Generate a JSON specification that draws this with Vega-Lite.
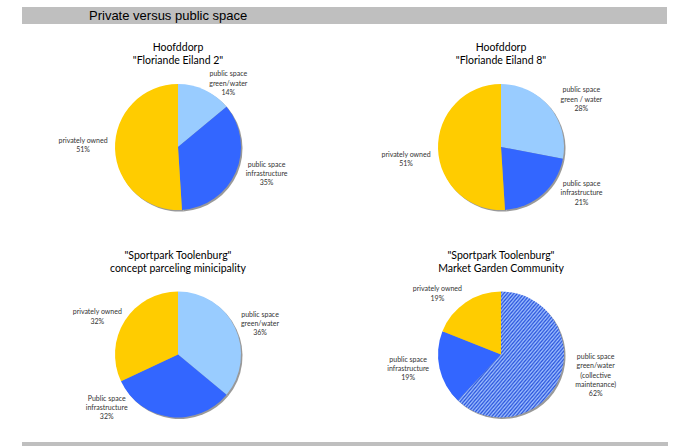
{
  "$schema": "https://vega.github.io/schema/vega-lite/v6.json",
  "background": "white",
  "padding": {"left": 22, "top": 7, "right": 9, "bottom": 1},
  "spacing": 1,
  "config": {"view": {"stroke": null}, "font": "Lato"},
  "datasets": {
    "p1": [
      {"cat": "green", "label": "public space|green/water", "v": 14, "o": 1},
      {"cat": "infra", "label": "public space|infrastructure", "v": 35, "o": 2},
      {"cat": "private", "label": "privately owned", "v": 51, "o": 3}
    ],
    "p2": [
      {"cat": "green", "label": "public space|green / water", "v": 28, "o": 1},
      {"cat": "infra", "label": "public space|infrastructure", "v": 21, "o": 2},
      {"cat": "private", "label": "privately owned", "v": 51, "o": 3}
    ],
    "p3": [
      {"cat": "green", "label": "public space|green/water", "v": 36, "o": 1},
      {"cat": "infra", "label": "Public space|infrastructure", "v": 32, "o": 2},
      {"cat": "private", "label": "privately owned", "v": 32, "o": 3}
    ],
    "p4": [
      {"cat": "collective", "label": "public space|green/water|(collective|maintenance)", "v": 62, "o": 1},
      {"cat": "infra", "label": "public space|infrastructure", "v": 19, "o": 2},
      {"cat": "private", "label": "privately owned", "v": 19, "o": 3}
    ],
    "blank": [{"t": ""}]
  },
  "vconcat": [
    {
      "width": 645,
      "height": 17,
      "view": {"fill": "#BFBFBF", "stroke": null},
      "title": {"text": "Private versus public space", "anchor": "start", "frame": "group", "orient": "top", "baseline": "top", "offset": -13, "dx": 67, "dy": 2.7, "fontSize": 13, "font": "Liberation Sans", "fontWeight": "normal", "color": "#000000"},
      "data": {"name": "blank"},
      "mark": {"type": "text"},
      "encoding": {"text": {"field": "t", "type": "nominal"}}
    },
    {
      "spacing": 11,
      "hconcat": [
        {
          "width": 312,
          "height": 219,
          "data": {"name": "p1"},
          "transform": [{"calculate": "datum.label + '|' + datum.v + '%'", "as": "txt"}],
          "title": {"text": ["Hoofddorp", "\"Floriande Eiland 2\""], "anchor": "middle", "frame": "group", "orient": "top", "baseline": "top", "offset": -41.7, "lineHeight": 13, "fontSize": 10.5, "font": "Lato", "fontWeight": "normal", "color": "#000000"},
          "encoding": {
            "theta": {"field": "v", "type": "quantitative", "stack": true},
            "order": {"field": "o", "type": "quantitative"}
          },
          "layer": [
            {"mark": {"type": "arc", "outerRadius": 63, "xOffset": 1.5, "yOffset": 14, "fill": "#7F7F7F", "opacity": 0.8}, "encoding": {"detail": {"field": "cat", "type": "nominal"}}},
            {"mark": {"type": "arc", "outerRadius": 63, "yOffset": 12.5}, "encoding": {"fill": {"field": "cat", "type": "nominal", "legend": null, "scale": {"domain": ["private", "infra", "green", "collective"], "range": ["#FFCC00", "#3366FF", "#99CCFF", "#5F87F0"]}}}},
            {"mark": {"type": "text", "radius": 90, "dx": 12, "dy": 21.3, "fontSize": 7, "font": "Lato", "lineBreak": "|", "lineHeight": 9.2, "color": "#333333", "baseline": "middle"}, "encoding": {"text": {"condition": {"test": "datum.cat !== 'green'", "value": ""}, "field": "txt", "type": "nominal"}, "detail": {"field": "cat", "type": "nominal"}}},
            {"mark": {"type": "text", "radius": 90, "dx": 6, "dy": -5.7, "fontSize": 7, "font": "Lato", "lineBreak": "|", "lineHeight": 9.2, "color": "#333333", "baseline": "middle"}, "encoding": {"text": {"condition": {"test": "datum.cat !== 'infra'", "value": ""}, "field": "txt", "type": "nominal"}, "detail": {"field": "cat", "type": "nominal"}}},
            {"mark": {"type": "text", "radius": 90, "dx": -5, "dy": 3.9, "fontSize": 7, "font": "Lato", "lineBreak": "|", "lineHeight": 9.2, "color": "#333333", "baseline": "middle"}, "encoding": {"text": {"condition": {"test": "datum.cat !== 'private'", "value": ""}, "field": "txt", "type": "nominal"}, "detail": {"field": "cat", "type": "nominal"}}}
          ]
        },
        {
          "width": 312,
          "height": 219,
          "data": {"name": "p2"},
          "transform": [{"calculate": "datum.label + '|' + datum.v + '%'", "as": "txt"}],
          "title": {"text": ["Hoofddorp", "\"Floriande Eiland 8\""], "anchor": "middle", "frame": "group", "orient": "top", "baseline": "top", "offset": -41.7, "lineHeight": 13, "fontSize": 10.5, "font": "Lato", "fontWeight": "normal", "color": "#000000"},
          "encoding": {
            "theta": {"field": "v", "type": "quantitative", "stack": true},
            "order": {"field": "o", "type": "quantitative"}
          },
          "layer": [
            {"mark": {"type": "arc", "outerRadius": 63, "xOffset": 1.5, "yOffset": 14, "fill": "#7F7F7F", "opacity": 0.8}, "encoding": {"detail": {"field": "cat", "type": "nominal"}}},
            {"mark": {"type": "arc", "outerRadius": 63, "yOffset": 12.5}, "encoding": {"fill": {"field": "cat", "type": "nominal", "legend": null, "scale": {"domain": ["private", "infra", "green", "collective"], "range": ["#FFCC00", "#3366FF", "#99CCFF", "#5F87F0"]}}}},
            {"mark": {"type": "text", "radius": 90, "dx": 11, "dy": 13.3, "fontSize": 7, "font": "Lato", "lineBreak": "|", "lineHeight": 9.2, "color": "#333333", "baseline": "middle"}, "encoding": {"text": {"condition": {"test": "datum.cat !== 'green'", "value": ""}, "field": "txt", "type": "nominal"}, "detail": {"field": "cat", "type": "nominal"}}},
            {"mark": {"type": "text", "radius": 90, "dx": 21, "dy": -17.7, "fontSize": 7, "font": "Lato", "lineBreak": "|", "lineHeight": 9.2, "color": "#333333", "baseline": "middle"}, "encoding": {"text": {"condition": {"test": "datum.cat !== 'infra'", "value": ""}, "field": "txt", "type": "nominal"}, "detail": {"field": "cat", "type": "nominal"}}},
            {"mark": {"type": "text", "radius": 90, "dx": -5, "dy": 17.9, "fontSize": 7, "font": "Lato", "lineBreak": "|", "lineHeight": 9.2, "color": "#333333", "baseline": "middle"}, "encoding": {"text": {"condition": {"test": "datum.cat !== 'private'", "value": ""}, "field": "txt", "type": "nominal"}, "detail": {"field": "cat", "type": "nominal"}}}
          ]
        }
      ]
    },
    {
      "spacing": 11,
      "hconcat": [
        {
          "width": 312,
          "height": 192,
          "data": {"name": "p3"},
          "transform": [{"calculate": "datum.label + '|' + datum.v + '%'", "as": "txt"}],
          "title": {"text": ["\"Sportpark Toolenburg\"", "concept parceling minicipality"], "anchor": "middle", "frame": "group", "orient": "top", "baseline": "top", "offset": -28.7, "lineHeight": 13, "fontSize": 10.5, "font": "Lato", "fontWeight": "normal", "color": "#000000"},
          "encoding": {
            "theta": {"field": "v", "type": "quantitative", "stack": true},
            "order": {"field": "o", "type": "quantitative"}
          },
          "layer": [
            {"mark": {"type": "arc", "outerRadius": 63, "xOffset": 1.5, "yOffset": 14, "fill": "#7F7F7F", "opacity": 0.8}, "encoding": {"detail": {"field": "cat", "type": "nominal"}}},
            {"mark": {"type": "arc", "outerRadius": 63, "yOffset": 12.5}, "encoding": {"fill": {"field": "cat", "type": "nominal", "legend": null, "scale": {"domain": ["private", "infra", "green", "collective"], "range": ["#FFCC00", "#3366FF", "#99CCFF", "#5F87F0"]}}}},
            {"mark": {"type": "text", "radius": 70, "dx": 18.7, "dy": 2.7, "fontSize": 7, "font": "Lato", "lineBreak": "|", "lineHeight": 9.2, "color": "#333333", "baseline": "middle"}, "encoding": {"text": {"condition": {"test": "datum.cat !== 'green'", "value": ""}, "field": "txt", "type": "nominal"}, "detail": {"field": "cat", "type": "nominal"}}},
            {"mark": {"type": "text", "radius": 90, "dx": -60, "dy": -32.7, "fontSize": 7, "font": "Lato", "lineBreak": "|", "lineHeight": 9.2, "color": "#333333", "baseline": "middle"}, "encoding": {"text": {"condition": {"test": "datum.cat !== 'infra'", "value": ""}, "field": "txt", "type": "nominal"}, "detail": {"field": "cat", "type": "nominal"}}},
            {"mark": {"type": "text", "radius": 70, "dx": -21.6, "dy": 8, "fontSize": 7, "font": "Lato", "lineBreak": "|", "lineHeight": 9.2, "color": "#333333", "baseline": "middle"}, "encoding": {"text": {"condition": {"test": "datum.cat !== 'private'", "value": ""}, "field": "txt", "type": "nominal"}, "detail": {"field": "cat", "type": "nominal"}}}
          ]
        },
        {
          "width": 312,
          "height": 192,
          "data": {"name": "p4"},
          "transform": [{"calculate": "datum.label + '|' + datum.v + '%'", "as": "txt"}],
          "title": {"text": ["\"Sportpark Toolenburg\"", "Market Garden Community"], "anchor": "middle", "frame": "group", "orient": "top", "baseline": "top", "offset": -28.7, "lineHeight": 13, "fontSize": 10.5, "font": "Lato", "fontWeight": "normal", "color": "#000000"},
          "encoding": {
            "theta": {"field": "v", "type": "quantitative", "stack": true},
            "order": {"field": "o", "type": "quantitative"}
          },
          "layer": [
            {"mark": {"type": "arc", "outerRadius": 63, "xOffset": 1.5, "yOffset": 14, "fill": "#7F7F7F", "opacity": 0.8}, "encoding": {"detail": {"field": "cat", "type": "nominal"}}},
            {"mark": {"type": "arc", "outerRadius": 63, "yOffset": 12.5}, "encoding": {"fill": {"field": "cat", "type": "nominal", "legend": null, "scale": {"domain": ["private", "infra", "green", "collective"], "range": ["#FFCC00", "#3366FF", "#99CCFF", "#5F87F0"]},
              "condition": {"test": "datum.cat === 'collective'", "value": {"gradient": "linear", "x1": 0, "y1": 0, "x2": 1, "y2": 1, "stops": [
{"offset":0,"color":"#2A55DC"},{"offset":0.008,"color":"#A0C0FF"},{"offset":0.016,"color":"#2A55DC"},{"offset":0.024,"color":"#A0C0FF"},{"offset":0.032,"color":"#2A55DC"},{"offset":0.04,"color":"#A0C0FF"},{"offset":0.048,"color":"#2A55DC"},{"offset":0.056,"color":"#A0C0FF"},{"offset":0.064,"color":"#2A55DC"},{"offset":0.072,"color":"#A0C0FF"},
{"offset":0.08,"color":"#2A55DC"},{"offset":0.088,"color":"#A0C0FF"},{"offset":0.096,"color":"#2A55DC"},{"offset":0.104,"color":"#A0C0FF"},{"offset":0.112,"color":"#2A55DC"},{"offset":0.12,"color":"#A0C0FF"},{"offset":0.128,"color":"#2A55DC"},{"offset":0.136,"color":"#A0C0FF"},{"offset":0.144,"color":"#2A55DC"},{"offset":0.152,"color":"#A0C0FF"},
{"offset":0.16,"color":"#2A55DC"},{"offset":0.168,"color":"#A0C0FF"},{"offset":0.176,"color":"#2A55DC"},{"offset":0.184,"color":"#A0C0FF"},{"offset":0.192,"color":"#2A55DC"},{"offset":0.2,"color":"#A0C0FF"},{"offset":0.208,"color":"#2A55DC"},{"offset":0.216,"color":"#A0C0FF"},{"offset":0.224,"color":"#2A55DC"},{"offset":0.232,"color":"#A0C0FF"},
{"offset":0.24,"color":"#2A55DC"},{"offset":0.248,"color":"#A0C0FF"},{"offset":0.256,"color":"#2A55DC"},{"offset":0.264,"color":"#A0C0FF"},{"offset":0.272,"color":"#2A55DC"},{"offset":0.28,"color":"#A0C0FF"},{"offset":0.288,"color":"#2A55DC"},{"offset":0.296,"color":"#A0C0FF"},{"offset":0.304,"color":"#2A55DC"},{"offset":0.312,"color":"#A0C0FF"},
{"offset":0.32,"color":"#2A55DC"},{"offset":0.328,"color":"#A0C0FF"},{"offset":0.336,"color":"#2A55DC"},{"offset":0.344,"color":"#A0C0FF"},{"offset":0.352,"color":"#2A55DC"},{"offset":0.36,"color":"#A0C0FF"},{"offset":0.368,"color":"#2A55DC"},{"offset":0.376,"color":"#A0C0FF"},{"offset":0.384,"color":"#2A55DC"},{"offset":0.392,"color":"#A0C0FF"},
{"offset":0.4,"color":"#2A55DC"},{"offset":0.408,"color":"#A0C0FF"},{"offset":0.416,"color":"#2A55DC"},{"offset":0.424,"color":"#A0C0FF"},{"offset":0.432,"color":"#2A55DC"},{"offset":0.44,"color":"#A0C0FF"},{"offset":0.448,"color":"#2A55DC"},{"offset":0.456,"color":"#A0C0FF"},{"offset":0.464,"color":"#2A55DC"},{"offset":0.472,"color":"#A0C0FF"},
{"offset":0.48,"color":"#2A55DC"},{"offset":0.488,"color":"#A0C0FF"},{"offset":0.496,"color":"#2A55DC"},{"offset":0.504,"color":"#A0C0FF"},{"offset":0.512,"color":"#2A55DC"},{"offset":0.52,"color":"#A0C0FF"},{"offset":0.528,"color":"#2A55DC"},{"offset":0.536,"color":"#A0C0FF"},{"offset":0.544,"color":"#2A55DC"},{"offset":0.552,"color":"#A0C0FF"},
{"offset":0.56,"color":"#2A55DC"},{"offset":0.568,"color":"#A0C0FF"},{"offset":0.576,"color":"#2A55DC"},{"offset":0.584,"color":"#A0C0FF"},{"offset":0.592,"color":"#2A55DC"},{"offset":0.6,"color":"#A0C0FF"},{"offset":0.608,"color":"#2A55DC"},{"offset":0.616,"color":"#A0C0FF"},{"offset":0.624,"color":"#2A55DC"},{"offset":0.632,"color":"#A0C0FF"},
{"offset":0.64,"color":"#2A55DC"},{"offset":0.648,"color":"#A0C0FF"},{"offset":0.656,"color":"#2A55DC"},{"offset":0.664,"color":"#A0C0FF"},{"offset":0.672,"color":"#2A55DC"},{"offset":0.68,"color":"#A0C0FF"},{"offset":0.688,"color":"#2A55DC"},{"offset":0.696,"color":"#A0C0FF"},{"offset":0.704,"color":"#2A55DC"},{"offset":0.712,"color":"#A0C0FF"},
{"offset":0.72,"color":"#2A55DC"},{"offset":0.728,"color":"#A0C0FF"},{"offset":0.736,"color":"#2A55DC"},{"offset":0.744,"color":"#A0C0FF"},{"offset":0.752,"color":"#2A55DC"},{"offset":0.76,"color":"#A0C0FF"},{"offset":0.768,"color":"#2A55DC"},{"offset":0.776,"color":"#A0C0FF"},{"offset":0.784,"color":"#2A55DC"},{"offset":0.792,"color":"#A0C0FF"},
{"offset":0.8,"color":"#2A55DC"},{"offset":0.808,"color":"#A0C0FF"},{"offset":0.816,"color":"#2A55DC"},{"offset":0.824,"color":"#A0C0FF"},{"offset":0.832,"color":"#2A55DC"},{"offset":0.84,"color":"#A0C0FF"},{"offset":0.848,"color":"#2A55DC"},{"offset":0.856,"color":"#A0C0FF"},{"offset":0.864,"color":"#2A55DC"},{"offset":0.872,"color":"#A0C0FF"},
{"offset":0.88,"color":"#2A55DC"},{"offset":0.888,"color":"#A0C0FF"},{"offset":0.896,"color":"#2A55DC"},{"offset":0.904,"color":"#A0C0FF"},{"offset":0.912,"color":"#2A55DC"},{"offset":0.92,"color":"#A0C0FF"},{"offset":0.928,"color":"#2A55DC"},{"offset":0.936,"color":"#A0C0FF"},{"offset":0.944,"color":"#2A55DC"},{"offset":0.952,"color":"#A0C0FF"},
{"offset":0.96,"color":"#2A55DC"},{"offset":0.968,"color":"#A0C0FF"},{"offset":0.976,"color":"#2A55DC"},{"offset":0.984,"color":"#A0C0FF"},{"offset":0.992,"color":"#2A55DC"},{"offset":1,"color":"#A0C0FF"}
              ]}}}}},
            {"mark": {"type": "text", "radius": 90, "dx": 11, "dy": -17.9, "fontSize": 7, "font": "Lato", "lineBreak": "|", "lineHeight": 9.2, "color": "#333333", "baseline": "middle"}, "encoding": {"text": {"condition": {"test": "datum.cat !== 'collective'", "value": ""}, "field": "txt", "type": "nominal"}, "detail": {"field": "cat", "type": "nominal"}}},
            {"mark": {"type": "text", "radius": 90, "dx": -5, "dy": -1.7, "fontSize": 7, "font": "Lato", "lineBreak": "|", "lineHeight": 9.2, "color": "#333333", "baseline": "middle"}, "encoding": {"text": {"condition": {"test": "datum.cat !== 'infra'", "value": ""}, "field": "txt", "type": "nominal"}, "detail": {"field": "cat", "type": "nominal"}}},
            {"mark": {"type": "text", "radius": 90, "dx": -13, "dy": 21.9, "fontSize": 7, "font": "Lato", "lineBreak": "|", "lineHeight": 9.2, "color": "#333333", "baseline": "middle"}, "encoding": {"text": {"condition": {"test": "datum.cat !== 'private'", "value": ""}, "field": "txt", "type": "nominal"}, "detail": {"field": "cat", "type": "nominal"}}}
          ]
        }
      ]
    },
    {
      "width": 646,
      "height": 7,
      "view": {"fill": "#BFBFBF", "stroke": null},
      "data": {"name": "blank"},
      "mark": {"type": "text"},
      "encoding": {"text": {"field": "t", "type": "nominal"}}
    }
  ]
}
